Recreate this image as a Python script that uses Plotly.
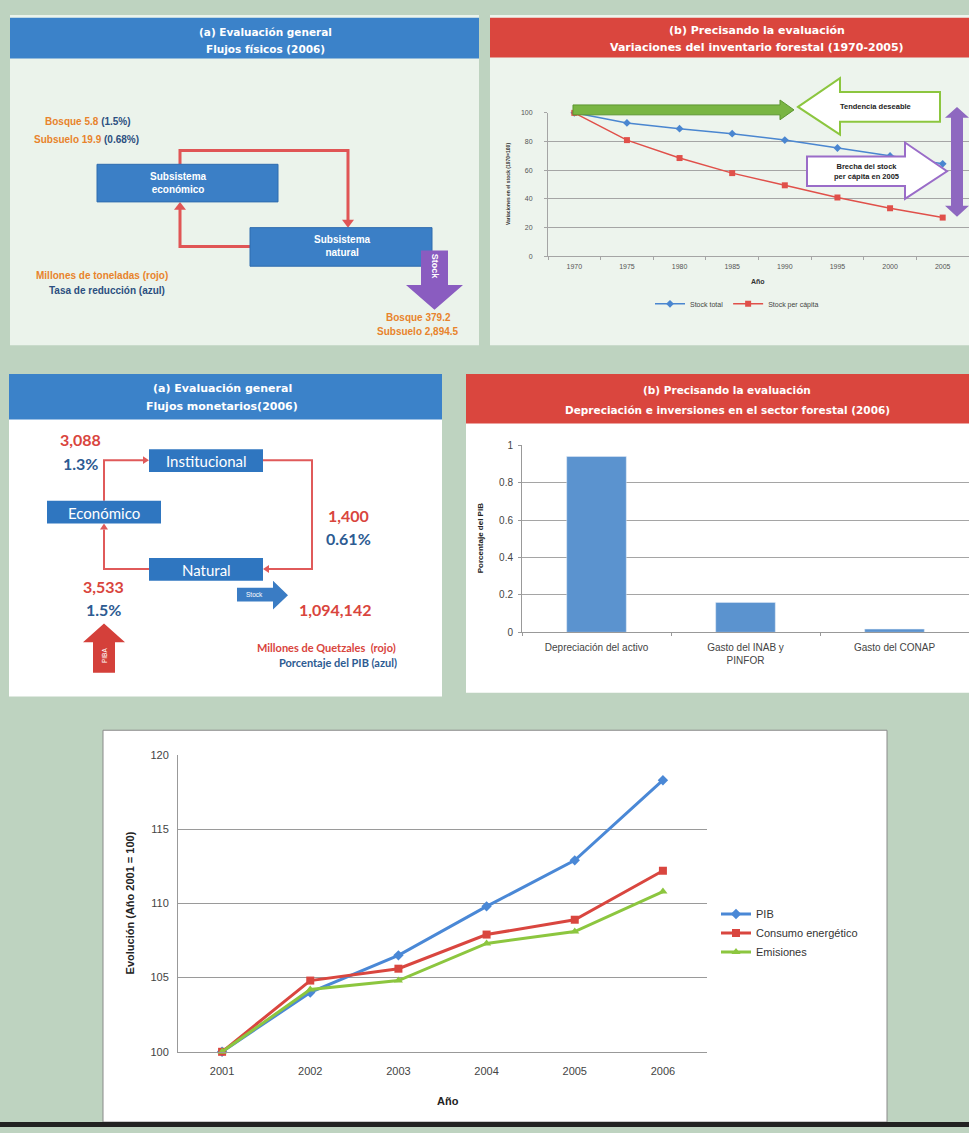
import plotly.graph_objects as go

W, H = 969, 1133

# ---------------- DATA ----------------
inv_years = ["1970", "1975", "1980", "1985", "1990", "1995", "2000", "2005"]
stock_total = [100, 93, 89, 85.5, 81, 75.5, 70, 64.5]
stock_per_capita = [100, 81, 68.5, 58, 49.5, 41, 33.5, 27]

dep_categories = ["Depreciación del activo", "Gasto del INAB y<br>PINFOR", "Gasto del CONAP"]
dep_values = [0.94, 0.16, 0.017]

evo_years = ["2001", "2002", "2003", "2004", "2005", "2006"]
pib = [100, 104.0, 106.5, 109.8, 112.9, 118.3]
consumo = [100, 104.8, 105.6, 107.9, 108.9, 112.2]
emisiones = [100, 104.2, 104.8, 107.3, 108.1, 110.8]

# ---------------- helpers ----------------
def X(p):
    return p / W

def Y(p):
    return 1 - p / H

shapes = []
annotations = []

def rect(x0, y0, x1, y1, fill, line=None, lw=0, layer="below"):
    shapes.append(dict(type="rect", xref="paper", yref="paper", x0=X(x0), x1=X(x1),
                       y0=Y(y1), y1=Y(y0), fillcolor=fill, layer=layer,
                       line=dict(color=line or fill, width=lw)))

def path(pts, fill=None, line="rgba(0,0,0,0)", lw=0, closed=True, layer="above"):
    d = "M " + " L ".join(f"{X(a):.5f},{Y(b):.5f}" for a, b in pts)
    if closed:
        d += " Z"
    s = dict(type="path", xref="paper", yref="paper", path=d, layer=layer,
             line=dict(color=line, width=lw))
    if fill:
        s["fillcolor"] = fill
    shapes.append(s)

def T(x, y, text, size, color, bold=False, family="Liberation Sans", angle=0, xanchor="center"):
    if bold:
        text = f"<b>{text}</b>"
    annotations.append(dict(x=X(x), y=Y(y), xref="paper", yref="paper", text=text,
                            showarrow=False, xanchor=xanchor, yanchor="middle",
                            textangle=angle, font=dict(size=size, color=color, family=family)))

BG = "#bed3c0"
BLUE_H = "#3b82c9"
RED_H = "#da463e"
ORANGE = "#e8832b"
NAVY = "#2b4f80"
RED_T = "#d9453d"
BLUE_T = "#2d5b92"

# ---------------- panels ----------------
rect(10, 9, 479, 343, "#ebf3eb")
rect(10, 12, 479, 53, BLUE_H)
rect(490, 9, 969, 343, "#edf4ed")
rect(490, 12, 969, 52, RED_H)
rect(9, 372, 442, 698, "#ffffff")
rect(9, 372, 442, 418, BLUE_H)
rect(466, 372, 969, 694, "#ffffff")
rect(466, 372, 969, 422, RED_H)
rect(103, 732, 887, 1128, "#ffffff", "#8a8a8a", 1)
rect(0, 1128, 969, 1133, "#222222")

HF = "DejaVu Sans"
T(265, 26, "(a) Evaluación general", 10.5, "white", True, HF)
T(265, 43, "Flujos físicos (2006)", 10.5, "white", True, HF)
T(757, 25, "(b) Precisando la evaluación", 11, "white", True, HF)
T(757, 42, "Variaciones del inventario forestal (1970-2005)", 11, "white", True, HF)
T(222, 387, "(a) Evaluación general", 11, "white", True, HF)
T(222, 405, "Flujos monetarios(2006)", 11, "white", True, HF)
T(727, 388, "(b) Precisando la evaluación", 10.5, "white", True, HF)
T(727, 408, "Depreciación e inversiones en el sector forestal (2006)", 10.5, "white", True, HF)

# ---------------- top-left diagram ----------------
RL = "#e05555"
path([(180, 160), (180, 146), (348, 146), (348, 218)], line=RL, lw=3, closed=False)
path([(342, 216), (354, 216), (348, 224)], fill=RL)
path([(250, 243), (180, 243), (180, 205)], line=RL, lw=3, closed=False)
path([(174, 206), (186, 206), (180, 198)], fill=RL)
rect(97, 160, 278, 198, "#3b7fc6", "#2f6cae", 1, layer="above")
rect(250, 224, 432, 263, "#3b7fc6", "#2f6cae", 1, layer="above")
T(178, 179, "Subsistema<br>económico", 10, "white", True)
T(342, 243, "Subsistema<br>natural", 10, "white", True)
path([(421, 247), (448, 247), (448, 282), (463, 282), (434.5, 307), (406, 282), (421, 282)],
     fill="#8a5cc0")
T(434.5, 263, "Stock", 9, "white", True, angle=90)
T(88, 117, f"Bosque 5.8 <span style='color:{NAVY}'>(1.5%)</span>", 10, ORANGE, True)
T(86, 135, f"Subsuelo 19.9 <span style='color:{NAVY}'>(0.68%)</span>", 10, ORANGE, True)
T(102, 272, "Millones de toneladas (rojo)", 10, ORANGE, True)
T(107, 288, "Tasa de reducción (azul)", 10, NAVY, True)
T(418, 315, "Bosque 379.2", 10, ORANGE, True)
T(418, 329, "Subsuelo 2,894.5", 10, ORANGE, True)

# ---------------- top-right arrows ----------------
path([(573, 100), (780, 100), (780, 95), (794, 105), (780, 115), (780, 110), (573, 110)],
     fill="#79b543", line="#5c962f", lw=1)
path([(798, 102), (840, 73), (840, 87), (940, 87), (940, 117), (840, 117), (840, 130)],
     fill="white", line="#8cc63f", lw=2)
T(875, 102, "Tendencia deseable", 7.5, "#222", True)
path([(807, 152), (905, 152), (905, 138), (947, 167), (905, 195), (905, 182), (807, 182)],
     fill="white", line="#9a6cc8", lw=2)
T(866, 167, "Brecha del stock<br>per cápita en 2005", 7.5, "#222", True)
path([(957, 102), (969, 113), (963, 113), (963, 202), (969, 202), (957, 213), (945, 202),
      (951, 202), (951, 113), (945, 113)], fill="#8e68c0")
T(508, 180, "Variaciones en el stock (1970=100)", 5, "#333", True, angle=-90)
T(758, 278, "Año", 7, "#333", True)

# ---------------- middle-left diagram ----------------
RL2 = "#e05a5a"
path([(104, 500), (104, 459), (143, 459)], line=RL2, lw=2, closed=False)
path([(143, 455), (143, 463), (149, 459)], fill=RL2)
path([(263, 459), (312, 459), (312, 569), (269, 569)], line=RL2, lw=2, closed=False)
path([(269, 565), (269, 573), (263, 569)], fill=RL2)
path([(149, 569), (104, 569), (104, 529)], line=RL2, lw=2, closed=False)
path([(100, 529), (108, 529), (104, 523)], fill=RL2)
BOX2 = "#2f76c0"
rect(149, 448, 263, 471, BOX2, layer="above")
rect(47, 500, 161, 523, BOX2, layer="above")
rect(149, 558, 263, 581, BOX2, layer="above")
LF = "Lato"
T(206, 460, "Institucional", 15, "white", False, LF)
T(104, 512, "Económico", 15, "white", False, LF)
T(206, 570, "Natural", 15, "white", False, LF)
T(80, 438, "3,088", 16, RED_T, True, LF)
T(80, 462, "1.3%", 16, BLUE_T, True, LF)
T(348, 515, "1,400", 16, RED_T, True, LF)
T(348, 538, "0.61%", 16, BLUE_T, True, LF)
T(103, 587, "3,533", 16, RED_T, True, LF)
T(103, 610, "1.5%", 16, BLUE_T, True, LF)
T(335, 610, "1,094,142", 16, RED_T, True, LF)
T(326, 648, "Millones de Quetzales  (rojo)", 11, RED_T, True, LF)
T(338, 664, "Porcentaje del PIB (azul)", 11, BLUE_T, True, LF)
path([(237, 588), (273, 588), (273, 581), (288, 595.5), (273, 610), (273, 602), (237, 602)],
     fill="#3a7cc4")
T(254, 595, "Stock", 6.5, "white", False)
path([(93, 674), (93, 643), (83, 643), (104, 624), (125, 643), (115, 643), (115, 674)],
     fill="#d4403a")
T(104, 657, "PIBA", 6.5, "white", False, angle=-90)

# ---------------- bar chart labels ----------------
T(480, 538, "Porcentaje del PIB", 8, "#222", True, angle=-90)

# ---------------- bottom chart labels ----------------
T(130, 907, "Evolución (Año 2001 = 100)", 11, "#222", True, angle=-90)
T(448, 1107, "Año", 11, "#222", True)

# ---------------- traces ----------------
fig = go.Figure()

fig.add_trace(go.Scatter(x=inv_years, y=stock_total, name="Stock total", mode="lines+markers",
                         line=dict(color="#4a86d0", width=1.5),
                         marker=dict(symbol="diamond", size=6, color="#4a86d0"),
                         xaxis="x", yaxis="y", legend="legend", cliponaxis=False))
fig.add_trace(go.Scatter(x=inv_years, y=stock_per_capita, name="Stock per cápita",
                         mode="lines+markers", line=dict(color="#e0504a", width=1.5),
                         marker=dict(symbol="square", size=6, color="#e0504a"),
                         xaxis="x", yaxis="y", legend="legend", cliponaxis=False))

fig.add_trace(go.Bar(x=dep_categories, y=dep_values, marker=dict(color="#5b93cf"),
                     xaxis="x2", yaxis="y2", showlegend=False))

fig.add_trace(go.Scatter(x=evo_years, y=pib, name="PIB", mode="lines+markers",
                         line=dict(color="#4a88d6", width=3),
                         marker=dict(symbol="diamond", size=8, color="#4a88d6"),
                         xaxis="x3", yaxis="y3", legend="legend2", cliponaxis=False))
fig.add_trace(go.Scatter(x=evo_years, y=consumo, name="Consumo energético", mode="lines+markers",
                         line=dict(color="#d9463f", width=3),
                         marker=dict(symbol="square", size=8, color="#d9463f"),
                         xaxis="x3", yaxis="y3", legend="legend2", cliponaxis=False))
fig.add_trace(go.Scatter(x=evo_years, y=emisiones, name="Emisiones", mode="lines+markers",
                         line=dict(color="#8cc63f", width=3),
                         marker=dict(symbol="triangle-up", size=8, color="#8cc63f"),
                         xaxis="x3", yaxis="y3", legend="legend2", cliponaxis=False))

GRID = "#a5a5a5"
fig.update_layout(
    width=W, height=H, margin=dict(l=0, r=0, t=0, b=0),
    paper_bgcolor=BG, plot_bgcolor="rgba(0,0,0,0)",
    font=dict(family="Liberation Sans", color="#444"),
    shapes=shapes, annotations=annotations,
    xaxis=dict(domain=[X(548), 1.0], anchor="y", type="category", showgrid=False,
               range=[-0.5, len(inv_years) - 0.5],
               showline=True, linecolor=GRID, ticks="outside", tickson="boundaries",
               ticklen=3, tickcolor=GRID, tickfont=dict(size=7, color="#555"),
               ticklabelstandoff=3),
    yaxis=dict(domain=[Y(253), Y(108)], anchor="x", range=[0, 100], dtick=20,
               showgrid=True, gridcolor=GRID, showline=True, linecolor=GRID, ticks="outside",
               ticklen=3, tickcolor=GRID, tickfont=dict(size=7, color="#555"),
               ticklabelstandoff=10, zeroline=False),
    xaxis2=dict(domain=[X(522), 1.0], anchor="y2", type="category", showgrid=False,
                range=[-0.5, len(dep_categories) - 0.5],
                showline=True, linecolor="#999", ticks="outside", tickson="boundaries",
                ticklen=3, tickcolor="#999", tickfont=dict(size=10, color="#444"),
                ticklabelstandoff=6),
    yaxis2=dict(domain=[Y(633), Y(444)], anchor="x2", range=[0, 1], dtick=0.2,
                showgrid=True, gridcolor=GRID, showline=True, linecolor="#999", ticks="outside",
                ticklen=3, tickcolor="#999", tickfont=dict(size=10, color="#444"),
                ticklabelstandoff=3, zeroline=False),
    xaxis3=dict(domain=[X(178), X(707)], anchor="y3", type="category", showgrid=False,
                range=[-0.5, len(evo_years) - 0.5],
                showline=True, linecolor="#999", ticks="", tickfont=dict(size=11, color="#444"),
                ticklabelstandoff=9),
    yaxis3=dict(domain=[Y(1057), Y(757)], anchor="x3", range=[100, 120], dtick=5,
                showgrid=True, gridcolor="#9a9a9a", showline=True, linecolor="#999",
                ticks="", tickfont=dict(size=11, color="#444"), ticklabelstandoff=6,
                zeroline=False),
    bargap=0.6,
    legend=dict(orientation="h", x=X(650), y=Y(301), xanchor="left", yanchor="middle",
                bgcolor="rgba(0,0,0,0)", font=dict(size=7, color="#444")),
    legend2=dict(orientation="v", x=X(716), y=Y(903), xanchor="left", yanchor="top",
                 bgcolor="rgba(0,0,0,0)", font=dict(size=11, color="#333"),
                 tracegroupgap=2),
)

fig.write_html("out.html", config={"displayModeBar": False},
               post_script="document.body.style.margin='0';document.body.style.overflow='hidden';")
